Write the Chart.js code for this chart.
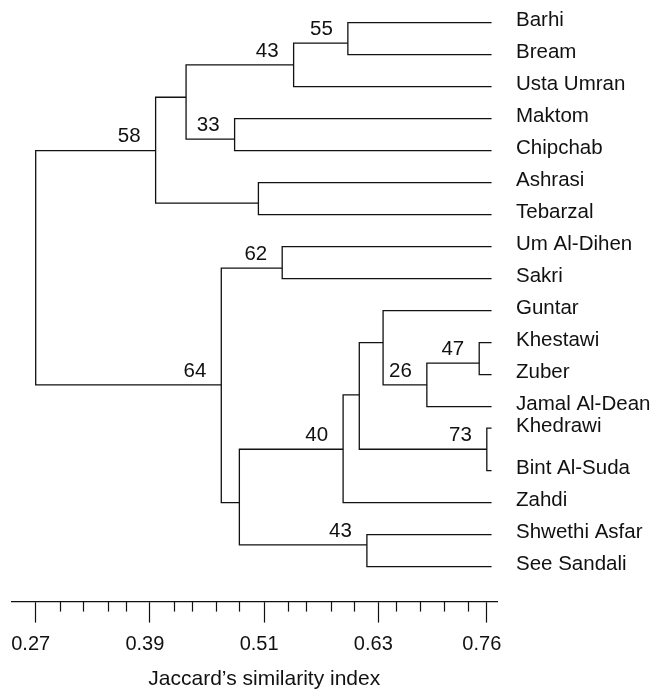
<!DOCTYPE html>
<html><head><meta charset="utf-8">
<script src="https://cdn.jsdelivr.net/npm/chart.js@4/dist/chart.umd.min.js"></script>
<style>html,body{margin:0;padding:0;background:#fff}canvas{display:block}</style>
</head><body>
<canvas id="c" width="657" height="696"></canvas>
<script>
// ---- leaves (top to bottom) ----
const leafNames = ['Barhi','Bream','Usta Umran','Maktom','Chipchab','Ashrasi','Tebarzal','Um Al-Dihen','Sakri','Guntar','Khestawi','Zuber','Jamal Al-Dean','Khedrawi','Bint Al-Suda','Zahdi','Shwethi Asfar','See Sandali'];
const leafRows = [0,1,2,3,4,5,6,7,8,9,10,11,12,12.67,14,15,16,17];
const leafSimilarity = 0.749;

// ---- clusters ----
const clusterNames = ['c55','c43a','c33','cUpper','cAsh','c58','c62','c47','c26','cGuntar','c73','cMid','c40','c43b','cLow','c64','root'];
const clusterSimilarity = [0.598,0.541,0.479,0.428,0.504,0.396,0.529,0.736,0.681,0.635,0.744,0.610,0.593,0.618,0.484,0.465,0.270];
const clusterRows = [0.64,1.32,3.64,2.33,5.64,4.0,7.67,10.64,11.32,10.0,13.33,11.63,13.33,16.32,15.0,11.32,7.66];
const clusterChildren = [
  ['Barhi','Bream'],['c55','Usta Umran'],['Maktom','Chipchab'],['c43a','c33'],['Ashrasi','Tebarzal'],
  ['cUpper','cAsh'],['Um Al-Dihen','Sakri'],['Khestawi','Zuber'],['c47','Jamal Al-Dean'],['Guntar','c26'],
  ['Khedrawi','Bint Al-Suda'],['cGuntar','c73'],['cMid','Zahdi'],['Shwethi Asfar','See Sandali'],
  ['c40','c43b'],['c62','cLow'],['c58','c64']
];
const bootstrap = [55,43,33,null,null,58,62,47,26,null,73,null,40,43,null,64,null];

// ---- axis ----
const majorTickValues = [0.27,0.39,0.51,0.63,0.744];
const majorTickLabels = ['0.27','0.39','0.51','0.63','0.76'];
const minorTickValues = [0.2955,0.32,0.3457,0.3649,0.4153,0.4339,0.4594,0.4839,0.5348,0.554,0.58,0.6048,0.6486,0.6738,0.699,0.7239];
const axisTitle = 'Jaccard\u2019s similarity index';

const FONT = '"Liberation Sans", Arial, Helvetica, sans-serif';
const INK = '#111';

function simOf(n){ const i = clusterNames.indexOf(n); return i >= 0 ? clusterSimilarity[i] : leafSimilarity; }
function rowOf(n){ const i = clusterNames.indexOf(n); return i >= 0 ? clusterRows[i] : leafRows[leafNames.indexOf(n)]; }

const datasets = clusterNames.map((id, k) => {
  const [a, b] = clusterChildren[k];
  const s = clusterSimilarity[k];
  return {
    label: id,
    data: [{x: simOf(a), y: rowOf(a)}, {x: s, y: rowOf(a)}, {x: s, y: rowOf(b)}, {x: simOf(b), y: rowOf(b)}],
    showLine: true, borderColor: INK, borderWidth: 1.3, pointRadius: 0, pointHoverRadius: 0,
    tension: 0, fill: false, clip: false, borderJoinStyle: 'miter', borderCapStyle: 'butt'
  };
});

const annot = {
  id: 'annot',
  afterDraw(chart) {
    const {ctx, scales: {x, y}} = chart;
    ctx.save();
    ctx.strokeStyle = INK; ctx.lineWidth = 1.2;
    minorTickValues.forEach(v => {
      const px = Math.round(x.getPixelForValue(v)) + 0.5;
      ctx.beginPath(); ctx.moveTo(px, x.top); ctx.lineTo(px, x.top + 10); ctx.stroke();
    });
    ctx.fillStyle = INK; ctx.font = '20.5px ' + FONT; ctx.textAlign = 'right'; ctx.textBaseline = 'middle';
    clusterNames.forEach((id, k) => {
      if (bootstrap[k] == null) return;
      ctx.fillText(String(bootstrap[k]), x.getPixelForValue(clusterSimilarity[k]) - 15, y.getPixelForValue(clusterRows[k]) - 14);
    });
    ctx.font = '21px ' + FONT; ctx.textAlign = 'center';
    const cx = (x.getPixelForValue(majorTickValues[0]) + x.getPixelForValue(majorTickValues[majorTickValues.length - 1])) / 2 + 3;
    ctx.fillText(axisTitle, cx, x.bottom - 17);
    ctx.restore();
  }
};

new Chart(document.getElementById('c'), {
  type: 'scatter',
  data: { datasets },
  options: {
    responsive: false, animation: false, devicePixelRatio: 1,
    layout: { padding: { left: 12, top: 0, right: 0, bottom: 0 } },
    plugins: { legend: { display: false }, tooltip: { enabled: false } },
    events: [],
    scales: {
      x: {
        type: 'linear', position: 'bottom', min: 0.2451, max: 0.7547,
        afterBuildTicks: s => { s.ticks = majorTickValues.map(v => ({ value: v })); },
        afterFit: s => { s.height = 94.4; s.paddingLeft = 0; s.paddingRight = 0; },
        grid: { display: true, drawOnChartArea: false, drawTicks: true, tickLength: 21, tickColor: INK, tickWidth: 1.2 },
        border: { display: true, color: INK, width: 1.2 },
        ticks: { autoSkip: false, maxRotation: 0, padding: 10, labelOffset: -5, color: INK,
                 font: { family: FONT, size: 20 }, callback: (v, i) => majorTickLabels[i] }
      },
      y: {
        type: 'linear', position: 'right', reverse: true, min: -0.709, max: 18.091,
        afterBuildTicks: s => { s.ticks = leafRows.map(v => ({ value: v })); },
        afterFit: s => { s.width = 160; s.paddingTop = 0; s.paddingBottom = 0; },
        grid: { display: false, drawTicks: false, tickLength: 0 },
        border: { display: false },
        ticks: { autoSkip: false, padding: 19, labelOffset: -2, color: INK,
                 font: { family: FONT, size: 20.5 }, callback: (v, i) => leafNames[i] }
      }
    }
  },
  plugins: [annot]
});
</script>
</body></html>
